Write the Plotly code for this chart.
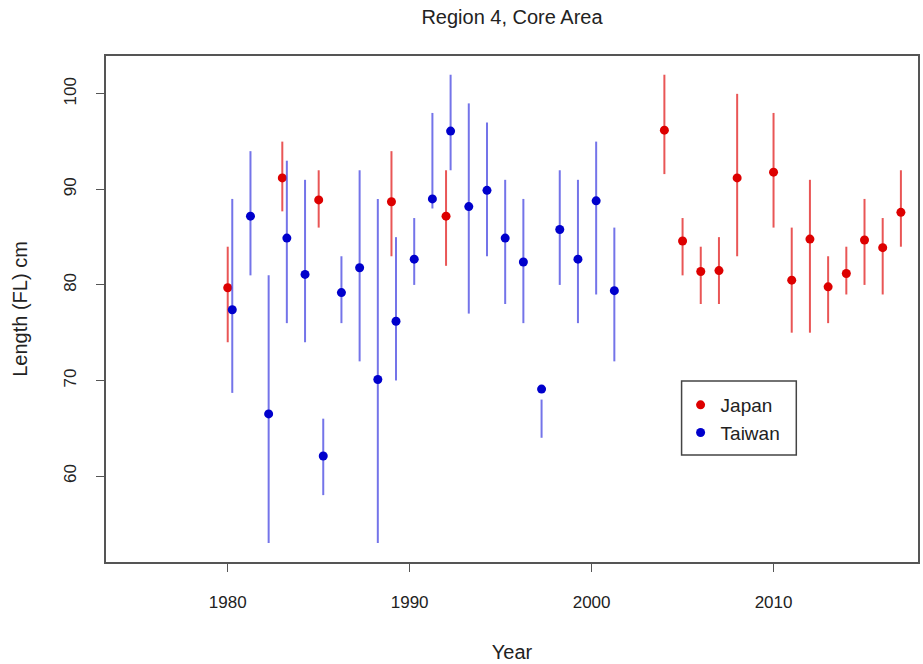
import plotly.graph_objects as go

# ---- data ----
jp_years = [1980, 1983, 1985, 1989, 1992, 2004, 2005, 2006, 2007, 2008,
            2010, 2011, 2012, 2013, 2014, 2015, 2016, 2017]
jp_mean = [79.7, 91.2, 88.9, 88.7, 87.2, 96.2, 84.6, 81.4, 81.5, 91.2,
           91.8, 80.5, 84.8, 79.8, 81.2, 84.7, 83.9, 87.6]
jp_lo = [74.0, 87.7, 86.0, 83.0, 82.0, 91.6, 81.0, 78.0, 78.0, 83.0,
         86.0, 75.0, 75.0, 76.0, 79.0, 80.0, 79.0, 84.0]
jp_hi = [84.0, 95.0, 92.0, 94.0, 92.0, 102.0, 87.0, 84.0, 85.0, 100.0,
         98.0, 86.0, 91.0, 83.0, 84.0, 89.0, 87.0, 92.0]

tw_years = list(range(1980, 2002))
tw_mean = [77.4, 87.2, 66.5, 84.9, 81.1, 62.1, 79.2, 81.8, 70.1, 76.2, 82.7,
           89.0, 96.1, 88.2, 89.9, 84.9, 82.4, 69.1, 85.8, 82.7, 88.8, 79.4]
tw_lo = [68.7, 81.0, 53.0, 76.0, 74.0, 58.0, 76.0, 72.0, 53.0, 70.0, 80.0,
         88.0, 92.0, 77.0, 83.0, 78.0, 76.0, 64.0, 80.0, 76.0, 79.0, 72.0]
tw_hi = [89.0, 94.0, 81.0, 93.0, 91.0, 66.0, 83.0, 92.0, 89.0, 85.0, 87.0,
         98.0, 102.0, 99.0, 97.0, 91.0, 89.0, 68.0, 92.0, 91.0, 95.0, 86.0]

TW_OFFSET = 0.25  # Taiwan points are drawn slightly right of the year

x_ticks = [1980, 1990, 2000, 2010]
y_ticks = [60, 70, 80, 90, 100]

FONT = "Liberation Sans, Arial, Helvetica, sans-serif"
RED = "#dd0000"
BLUE = "#0000cc"


def segs(xs, lo, hi):
    sx, sy = [], []
    for x, a, b in zip(xs, lo, hi):
        sx += [x, x, None]
        sy += [a, b, None]
    return sx, sy


tw_x = [y + TW_OFFSET for y in tw_years]

fig = go.Figure()

jx, jy = segs(jp_years, jp_lo, jp_hi)
fig.add_trace(go.Scatter(x=jx, y=jy, mode="lines", showlegend=False,
                         hoverinfo="skip",
                         line=dict(color="rgba(225,30,30,0.75)", width=2)))
fig.add_trace(go.Scatter(x=jp_years, y=jp_mean, mode="markers", name="Japan",
                         marker=dict(color=RED, size=9, line=dict(width=0))))

tx, ty = segs(tw_x, tw_lo, tw_hi)
fig.add_trace(go.Scatter(x=tx, y=ty, mode="lines", showlegend=False,
                         hoverinfo="skip",
                         line=dict(color="rgba(70,70,225,0.75)", width=2)))
fig.add_trace(go.Scatter(x=tw_x, y=tw_mean, mode="markers", name="Taiwan",
                         marker=dict(color=BLUE, size=9, line=dict(width=0))))

L, R, T, B = 106, 3, 56, 102
W, H = 923, 664
pw = W - L - R
ph = H - T - B


def px_x(p):
    return (p - L) / pw


def px_y(p):
    return (H - B - p) / ph


fig.update_layout(
    width=W, height=H,
    margin=dict(l=L, r=R, t=T, b=B),
    paper_bgcolor="white", plot_bgcolor="white",
    font=dict(family=FONT, size=17, color="#222"),
    title=dict(text="Region 4, Core Area", x=0.5, xref="paper",
               y=1 - 17 / H, yref="container", yanchor="middle",
               xanchor="center", font=dict(size=20, color="#222")),
    xaxis=dict(range=[1973.31, 2017.94], tickvals=x_ticks,
               ticktext=[str(v) for v in x_ticks],
               showgrid=False, zeroline=False,
               showline=True, linecolor="#555", linewidth=1.5, mirror=True,
               ticks="outside", ticklen=8, tickwidth=1.2, tickcolor="#555",
               ticklabelstandoff=16,
               title=dict(text="Year", standoff=34)),
    yaxis=dict(range=[51.0, 103.96], tickvals=y_ticks,
               ticktext=[str(v) for v in y_ticks], tickangle=-90,
               showgrid=False, zeroline=False,
               showline=True, linecolor="#555", linewidth=1.5, mirror=True,
               ticks="outside", ticklen=8, tickwidth=1.2, tickcolor="#555",
               ticklabelstandoff=13,
               title=dict(text="Length (FL) cm", standoff=28)),
    legend=dict(x=px_x(682), y=px_y(386), xanchor="left", yanchor="top",
                bgcolor="rgba(0,0,0,0)", borderwidth=0,
                font=dict(size=19, color="#222")),
    shapes=[dict(type="rect", xref="paper", yref="paper",
                 x0=px_x(683), x1=px_x(798), y0=px_y(455), y1=px_y(381),
                 line=dict(color="#444", width=1.5), fillcolor="white",
                 layer="below")],
)

fig.write_html("out.html")
